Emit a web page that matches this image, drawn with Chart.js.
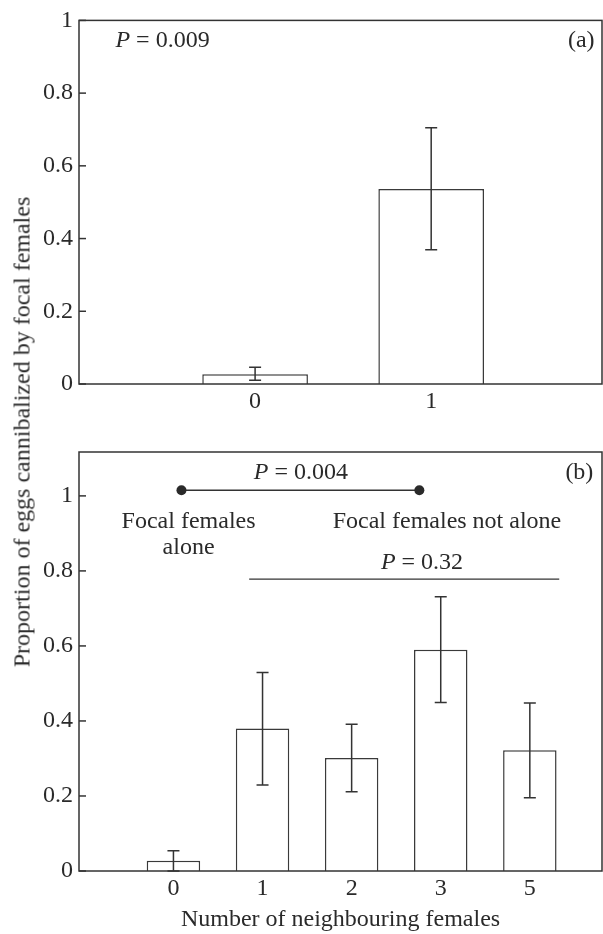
<!DOCTYPE html>
<html>
<head>
<meta charset="utf-8">
<script src="https://cdn.jsdelivr.net/npm/chart.js@4.4.1/dist/chart.umd.min.js"></script>
<style>
  html, body { margin: 0; padding: 0; background: #fff; }
  #wrap { position: relative; width: 603px; height: 934px; overflow: hidden; }
  #chartA { position: absolute; left: 0; top: 0; }
  #chartB { position: absolute; left: 0; top: 430px; }
  #ytitle {
    position: absolute; left: 22px; top: 432px;
    font-family: 'Liberation Serif', serif; font-size: 24px; color: #2a2a2a;
    white-space: nowrap; transform: translate(-50%, -50%) rotate(-90deg);
  }
</style>
</head>
<body>
<div id="wrap">
  <canvas id="chartA" width="603" height="420"></canvas>
  <canvas id="chartB" width="603" height="504"></canvas>
  <div id="ytitle">Proportion of eggs cannibalized by focal females</div>
</div>
<script>
// panel (a): focal female alone or not
const panelACategories = ['0', '1'];
const panelAMeans = [0.027, 0.536];
const panelALower = [0.010, 0.369];
const panelAUpper = [0.046, 0.705];

// panel (b): number of neighbouring females
const panelBCategories = ['0', '1', '2', '3', '5'];
const panelBMeans = [0.027, 0.380, 0.301, 0.590, 0.322];
const panelBLower = [0.000, 0.229, 0.211, 0.449, 0.195];
const panelBUpper = [0.054, 0.529, 0.391, 0.731, 0.448];

const yTicks = [0, 0.2, 0.4, 0.6, 0.8, 1];

const INK = '#2a2a2a';
const FONT = '"Liberation Serif", serif';

// annotation placement in data units
const notesA = [
  { kind: 'p', x: -0.793, y: 0.943, text: '0.009', align: 'left' },
  { kind: 'text', x: 1.852, y: 0.943, text: '(a)' }
];
const notesB = [
  { kind: 'line', x0: 0.09, x1: 2.76, y: 1.015, dots: true },
  { kind: 'p', x: 1.43, y: 1.062, text: '0.004' },
  { kind: 'text', x: 4.556, y: 1.062, text: '(b)' },
  { kind: 'text', x: 0.17, y: 0.931, text: 'Focal females' },
  { kind: 'text', x: 0.17, y: 0.861, text: 'alone' },
  { kind: 'text', x: 3.07, y: 0.931, text: 'Focal females not alone' },
  { kind: 'p', x: 2.79, y: 0.822, text: '0.32' },
  { kind: 'line', x0: 0.85, x1: 4.33, y: 0.778 }
];

function makeOverlay(lower, upper, notes) {
  return {
    id: 'overlay',
    afterDatasetsDraw(chart) {
      const ctx = chart.ctx;
      const xs = chart.scales.x, ys = chart.scales.y;
      const area = chart.chartArea;
      ctx.save();
      ctx.strokeStyle = '#333';
      ctx.lineWidth = 1.5;
      // error bars
      lower.forEach((lo, i) => {
        const x = xs.getPixelForValue(i);
        const y1 = ys.getPixelForValue(lo);
        const y2 = ys.getPixelForValue(upper[i]);
        ctx.beginPath();
        ctx.moveTo(x, y1); ctx.lineTo(x, y2);
        ctx.moveTo(x - 6, y1); ctx.lineTo(x + 6, y1);
        ctx.moveTo(x - 6, y2); ctx.lineTo(x + 6, y2);
        ctx.stroke();
      });
      // frame and inward ticks
      ctx.strokeRect(area.left, area.top, area.right - area.left, area.bottom - area.top);
      yTicks.forEach(v => {
        const y = ys.getPixelForValue(v);
        ctx.beginPath();
        ctx.moveTo(area.left, y); ctx.lineTo(area.left + 7, y);
        ctx.stroke();
      });
      // notes
      ctx.fillStyle = INK;
      ctx.textBaseline = 'middle';
      notes.forEach(n => {
        const y = ys.getPixelForValue(n.y);
        if (n.kind === 'line') {
          const xa = xs.getPixelForValue(n.x0), xb = xs.getPixelForValue(n.x1);
          ctx.lineWidth = 1.3;
          ctx.beginPath(); ctx.moveTo(xa, y); ctx.lineTo(xb, y); ctx.stroke();
          if (n.dots) {
            [xa, xb].forEach(px => {
              ctx.beginPath(); ctx.arc(px, y, 5, 0, Math.PI * 2); ctx.fill();
            });
          }
          ctx.lineWidth = 1.5;
        } else if (n.kind === 'text') {
          ctx.font = '24px ' + FONT;
          ctx.textAlign = 'center';
          ctx.fillText(n.text, xs.getPixelForValue(n.x), y);
        } else {
          ctx.font = 'italic 24px ' + FONT;
          const wP = ctx.measureText('P').width;
          ctx.font = '24px ' + FONT;
          const rest = ' = ' + n.text;
          const wR = ctx.measureText(rest).width;
          let x = xs.getPixelForValue(n.x);
          if (n.align !== 'left') x -= (wP + wR) / 2;
          ctx.textAlign = 'left';
          ctx.font = 'italic 24px ' + FONT;
          ctx.fillText('P', x, y);
          ctx.font = '24px ' + FONT;
          ctx.fillText(rest, x + wP, y);
        }
      });
      ctx.restore();
    }
  };
}

function makeChart(id, cats, means, lower, upper, notes, cfg) {
  new Chart(document.getElementById(id), {
    type: 'bar',
    data: {
      datasets: [{
        data: means.map((v, i) => ({ x: i, y: v })),
        backgroundColor: '#fff',
        borderColor: '#3a3a3a',
        borderWidth: 1.5,
        barPercentage: 0.6,
        categoryPercentage: 1
      }]
    },
    options: {
      responsive: false,
      animation: false,
      events: [],
      layout: { padding: { left: 0, right: 1, top: cfg.padTop, bottom: 0 } },
      plugins: { legend: { display: false }, tooltip: { enabled: false } },
      scales: {
        x: {
          type: 'linear',
          offset: false,
          min: cfg.xMin,
          max: cfg.xMax,
          grid: { display: false, drawTicks: false },
          border: { display: false },
          afterBuildTicks: s => { s.ticks = cats.map((c, i) => ({ value: i })); },
          afterFit: s => { s.height = cfg.xHeight; },
          ticks: {
            padding: 3,
            color: INK,
            font: { family: FONT, size: 24 },
            maxRotation: 0,
            autoSkip: false,
            callback: v => cats[v]
          },
          title: {
            display: !!cfg.xTitle,
            text: cfg.xTitle || '',
            color: INK,
            padding: 0,
            font: { family: FONT, size: 24 }
          }
        },
        y: {
          min: 0,
          max: cfg.yMax,
          grid: { display: false, drawTicks: false },
          border: { display: false },
          afterBuildTicks: s => { s.ticks = yTicks.map(v => ({ value: v })); },
          afterFit: s => { s.width = 79; },
          ticks: {
            padding: 6,
            color: INK,
            font: { family: FONT, size: 24 },
            callback: v => String(v)
          }
        }
      }
    },
    plugins: [makeOverlay(lower, upper, notes)]
  });
}

makeChart('chartA', panelACategories, panelAMeans, panelALower, panelAUpper, notesA,
  { padTop: 16, xMin: -1, xMax: 1.97, xHeight: 36, yMax: 1 });
makeChart('chartB', panelBCategories, panelBMeans, panelBLower, panelBUpper, notesB,
  { padTop: 22, xMin: -1.06, xMax: 4.81, xHeight: 63, yMax: 1.117,
    xTitle: 'Number of neighbouring females' });
</script>
</body>
</html>
